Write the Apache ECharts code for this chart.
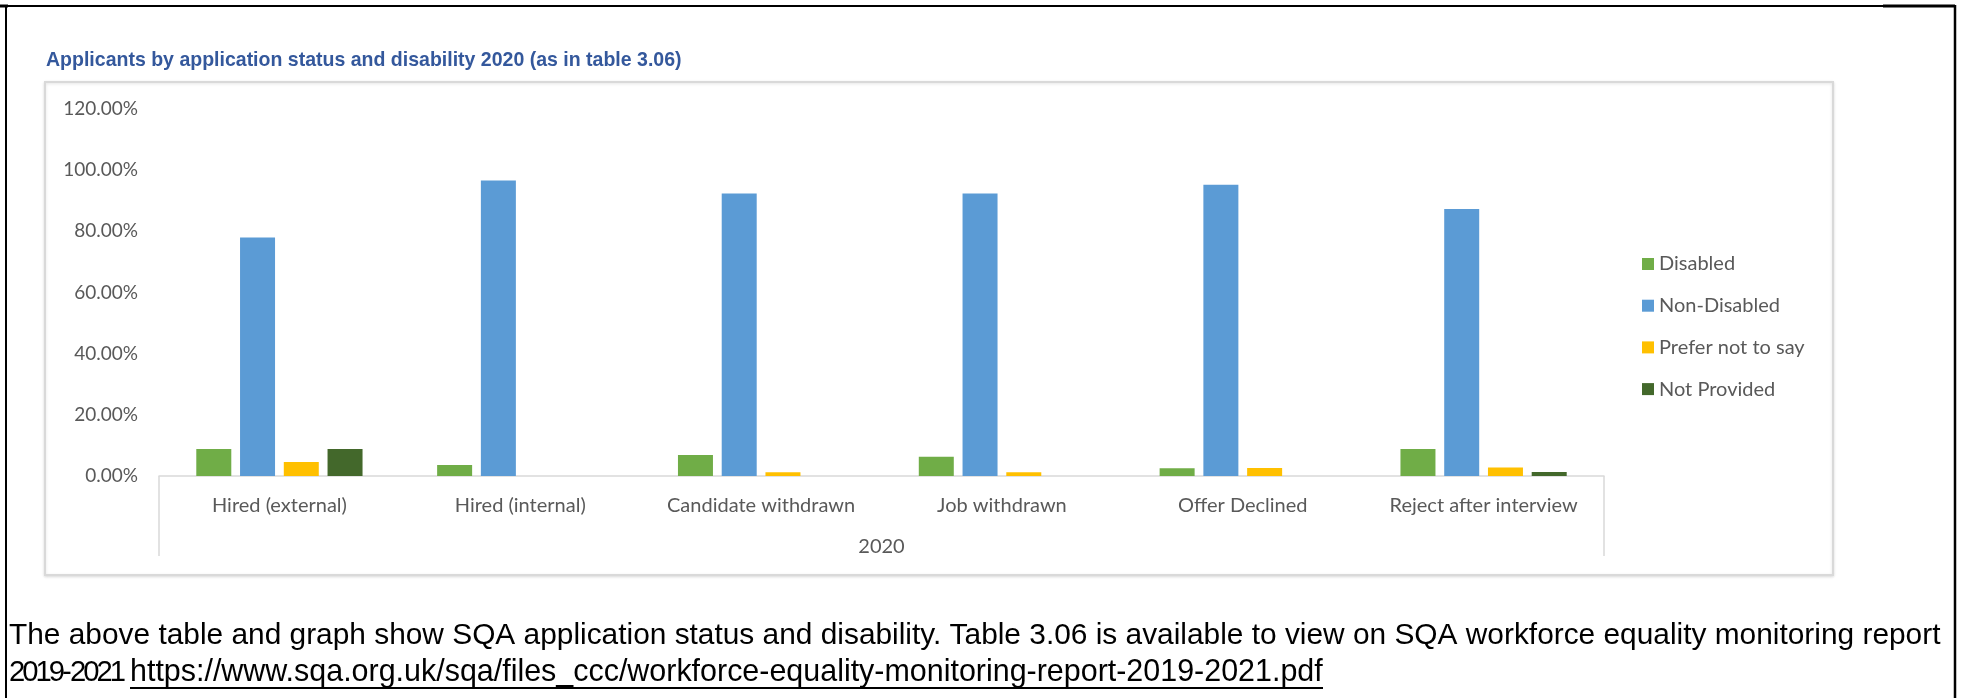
<!DOCTYPE html>
<html>
<head>
<meta charset="utf-8">
<script src="https://cdn.jsdelivr.net/npm/echarts@6/dist/echarts.min.js"></script>
<style>
  html, body { margin: 0; padding: 0; background: #ffffff; }
  #chart { width: 1962px; height: 698px; }
</style>
</head>
<body>
<div id="chart"></div>
<script>
// Application status categories and the single year group beneath them
const categories = ['Hired (external)', 'Hired (internal)', 'Candidate withdrawn', 'Job withdrawn', 'Offer Declined', 'Reject after interview'];
const yearGroup = ['2020'];

// Share of applicants (%) per disability status
const seriesNames = ['Disabled', 'Non-Disabled', 'Prefer not to say', 'Not Provided'];
const disabled    = [8.8, 3.6, 6.9, 6.3, 2.5, 8.8];
const nonDisabled = [78.0, 96.6, 92.4, 92.4, 95.2, 87.3];
const preferNot   = [4.6, 0, 1.2, 1.2, 2.6, 2.8];
const notProvided = [8.8, 0, 0, 0, 0, 1.3];

// Value axis ticks
const yMin = 0, yMax = 120, yStep = 20;

const titleText = 'Applicants by application status and disability 2020 (as in table 3.06)';
const noteLine1 = 'The above table and graph show SQA application status and disability. Table 3.06 is available to view on SQA workforce equality monitoring report';
const noteYears = '2019-2021';
const noteUrl = 'https://www.sqa.org.uk/sqa/files_ccc/workforce-equality-monitoring-report-2019-2021.pdf';

const palette = ['#70AD47', '#5B9BD5', '#FFC000', '#43682B'];
const seriesData = [disabled, nonDisabled, preferNot, notProvided];

const SANS = '"Liberation Sans", Arial, sans-serif';
const LABEL_FONT = 'Lato, "Open Sans", sans-serif';

// Text measuring helpers, used to fit the note lines to their widths
const measureCtx = document.createElement('canvas').getContext('2d');
function textWidth(text, weight, size) {
  measureCtx.font = weight + ' ' + size + 'px ' + SANS;
  return measureCtx.measureText(text).width;
}
// font size that makes a text span the given width
function fitSize(text, weight, width) {
  return 100 * width / textWidth(text, weight, 100);
}

const titleSize = fitSize(titleText, 'bold', 636);
const line1Size = fitSize(noteLine1, 'normal', 1932);
const urlX = 130, urlWidth = 1193;
const urlSize = fitSize(noteUrl, 'normal', urlWidth);

function noteText(text, x, y, size) {
  return {
    type: 'text', silent: true, x: x, y: y,
    style: { text: text, font: size.toFixed(2) + 'px ' + SANS, fill: '#000', align: 'left', verticalAlign: 'middle' }
  };
}

// Tightly set text: glyphs at the given size, advances condensed to fit the width
function tightText(text, x, y, size, width) {
  const total = textWidth(text, 'normal', size);
  const k = width / total;
  const out = [];
  let adv = 0;
  for (const ch of text) {
    out.push(noteText(ch, x + adv * k, y, size));
    adv += textWidth(ch, 'normal', size);
  }
  return out;
}

const chart = echarts.init(document.getElementById('chart'), null, { renderer: 'canvas' });

chart.setOption({
  animation: false,
  backgroundColor: '#ffffff',
  grid: { left: 159, right: 358, top: 109, bottom: 222 },
  legend: {
    orient: 'vertical',
    left: 1642,
    top: 254,
    padding: 0,
    itemWidth: 12,
    itemHeight: 12,
    itemGap: 21.7,
    icon: 'rect',
    data: seriesNames,
    textStyle: { fontFamily: LABEL_FONT, fontSize: 20, color: '#595959' }
  },
  xAxis: [
    {
      type: 'category',
      data: categories,
      position: 'bottom',
      axisLine: { show: true, lineStyle: { color: '#d9d9d9', width: 1.5 } },
      axisTick: { show: false },
      axisLabel: { interval: 0, margin: 20, fontFamily: LABEL_FONT, fontSize: 20, color: '#595959' },
      splitLine: { show: false }
    },
    {
      type: 'category',
      data: yearGroup,
      position: 'bottom',
      boundaryGap: true,
      axisLine: { show: false },
      axisTick: { show: true, length: 80, lineStyle: { color: '#d9d9d9', width: 1.5 } },
      axisLabel: { margin: 61, fontFamily: LABEL_FONT, fontSize: 20, color: '#595959' },
      splitLine: { show: false }
    }
  ],
  yAxis: {
    type: 'value',
    min: yMin,
    max: yMax,
    interval: yStep,
    axisLine: { show: false },
    axisTick: { show: false },
    splitLine: { show: false },
    axisLabel: {
      margin: 21,
      fontFamily: LABEL_FONT,
      fontSize: 19,
      color: '#595959',
      formatter: v => v.toFixed(2) + '%'
    }
  },
  series: seriesNames.map((name, i) => ({
    name: name,
    type: 'bar',
    xAxisIndex: 0,
    barWidth: 35,
    barGap: '25%',
    data: seriesData[i],
    itemStyle: { color: palette[i] }
  })),
  graphic: [
    // chart frame
    {
      type: 'rect', silent: true, z: -10,
      shape: { x: 45, y: 82, width: 1788, height: 493 },
      style: { fill: '#ffffff', stroke: '#d9d9d9', lineWidth: 2, shadowBlur: 3, shadowOffsetY: 1, shadowColor: 'rgba(0,0,0,0.12)' }
    },
    // page border
    { type: 'line', silent: true, shape: { x1: 6, y1: 6, x2: 1955, y2: 6 }, style: { stroke: '#000', lineWidth: 2 } },
    { type: 'line', silent: true, shape: { x1: 0, y1: 6, x2: 8, y2: 6 }, style: { stroke: '#000', lineWidth: 3 } },
    { type: 'line', silent: true, shape: { x1: 1883, y1: 6, x2: 1955, y2: 6 }, style: { stroke: '#000', lineWidth: 3 } },
    { type: 'line', silent: true, shape: { x1: 6, y1: 5, x2: 6, y2: 698 }, style: { stroke: '#000', lineWidth: 2 } },
    { type: 'line', silent: true, shape: { x1: 1955, y1: 5, x2: 1955, y2: 698 }, style: { stroke: '#000', lineWidth: 2.5 } },
    // chart title
    {
      type: 'text', silent: true, x: 46, y: 61,
      style: { text: titleText, font: 'bold ' + titleSize.toFixed(2) + 'px ' + SANS, fill: '#34589C', align: 'left', verticalAlign: 'middle' }
    },
    // note below the chart
    noteText(noteLine1, 9, 636, line1Size),
    ...tightText(noteYears, 9, 673, urlSize * 0.96, 114),
    noteText(noteUrl, urlX, 673, urlSize),
    {
      type: 'line', silent: true,
      shape: { x1: urlX, y1: 688, x2: urlX + urlWidth, y2: 688 },
      style: { stroke: '#000', lineWidth: 2 }
    }
  ]
});
</script>
</body>
</html>
